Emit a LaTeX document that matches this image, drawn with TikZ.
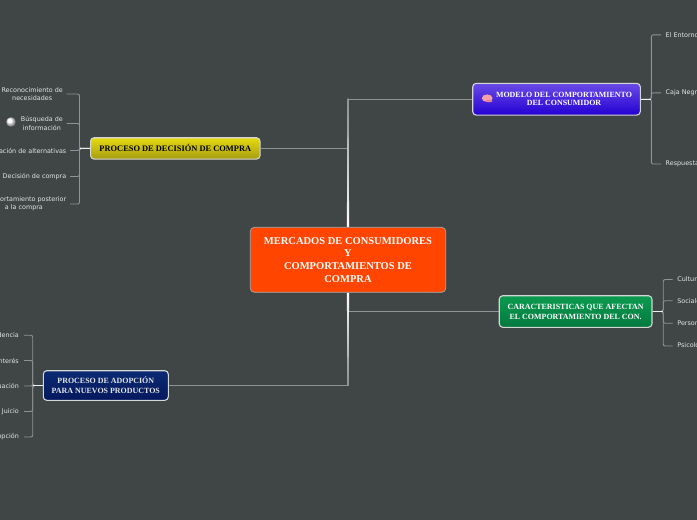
\documentclass[tikz,border=0pt]{standalone}
\usepackage{fontspec}
\setmainfont{Liberation Serif}
\newfontfamily\leaffont{DejaVu Sans}
\usetikzlibrary{backgrounds,calc}
\definecolor{bgc}{HTML}{404545}
\definecolor{linec}{HTML}{8E9393}
\definecolor{leafc}{HTML}{E4E6E6}
\definecolor{rootc}{HTML}{FF4500}
\definecolor{yelt}{HTML}{E6DA10}
\definecolor{yelb}{HTML}{A59D12}
\definecolor{blut}{HTML}{6A4BE6}
\definecolor{blub}{HTML}{2400D2}
\definecolor{grnt}{HTML}{0B9A50}
\definecolor{grnb}{HTML}{047A3E}
\definecolor{navt}{HTML}{0C2A72}
\definecolor{navb}{HTML}{04185E}
\definecolor{braina}{HTML}{F8A0A8}
\definecolor{brainb}{HTML}{E88090}
\tikzset{
  x=1pt,y=-1pt,
  branch/.style={draw=#1,line width=1.1pt},
  bracket/.style={draw=linec,line width=0.9pt,rounded corners=2pt},
  mainbox/.style={draw=white!55!bgc,line width=0.7pt,rounded corners=4pt,inner sep=0pt,align=center,font=\bfseries\fontsize{10.5}{12.7}\selectfont,text=white,fill=#1},
  subbox/.style 2 args={draw=white!78!bgc,line width=1.1pt,rounded corners=3.5pt,inner sep=0pt,align=center,top color=#1,bottom color=#2},
  subfont/.style={font=\bfseries\fontsize{7.95}{9.9}\selectfont},
  leafl/.style={inner xsep=3.5pt,inner ysep=1pt,anchor=east,align=center,text=leafc,font=\leaffont\fontsize{6.4}{8.2}\selectfont},
  leafr/.style={inner xsep=4.5pt,inner ysep=1pt,anchor=west,align=left,text=leafc,font=\leaffont\fontsize{6.4}{8.2}\selectfont},
}
\begin{document}
\begin{tikzpicture}
\useasboundingbox (0,0) rectangle (697,520);
\begin{scope}[on background layer]
\fill[bgc] (0,0) rectangle (697,520);
\end{scope}
\clip (0,0) rectangle (697,520);

\node[mainbox={rootc},minimum width=195.4pt,minimum height=65pt] (root) at (348,259.8)
  {MERCADOS DE CONSUMIDORES\\Y\\COMPORTAMIENTOS DE\\COMPRA};

\node[subbox={yelt}{yelb},font=\bfseries\fontsize{8.4}{10.2}\selectfont,text=black,minimum width=169.5pt,minimum height=21.3pt] (dec) at (175.3,148.4)
  {PROCESO DE DECISIÓN DE COMPRA};
\node[subbox={blut}{blub},subfont,text=white,minimum width=167.6pt,minimum height=31.7pt] (mod) at (556.5,99.2)
  {\hspace{15pt}\begin{tabular}{@{}c@{}}MODELO DEL COMPORTAMIENTO\\[-1.6pt]DEL CONSUMIDOR\end{tabular}};
\node[subbox={grnt}{grnb},subfont,text=white,minimum width=152.7pt,minimum height=31.6pt] (car) at (575.6,311.5)
  {CARACTERISTICAS QUE AFECTAN\\EL COMPORTAMIENTO DEL CON.};
\node[subbox={navt}{navb},subfont,text=leafc,minimum width=125pt,minimum height=29.6pt] (ado) at (105.8,385.5)
  {PROCESO DE ADOPCIÓN\\PARA NUEVOS PRODUCTOS};

% leaves left (decision)
\node[leafl] (d1) at (66.5,94) {Reconocimiento de\\necesidades};
\node[leafl] (d2) at (66.5,123.5) {Búsqueda de\\información};
\node[leafl] (d3) at (70,150.5) {Evaluación de alternativas};
\node[leafl] (d4) at (70,176.5) {Decisión de compra};
\node[leafl] (d5) at (70,204) {Comportamiento posterior\\a la compra};
% leaves right (modelo)
\node[leafr] (m1) at (661,34.8) {El Entorno};
\node[leafr] (m2) at (661,92.8) {Caja Negra};
\node[leafr] (m3) at (661,164) {Respuesta};
% leaves right (caracteristicas)
\node[leafr] (c1) at (672.7,279.5) {Cultura};
\node[leafr] (c2) at (672.7,300.7) {Sociales};
\node[leafr] (c3) at (672.7,323.2) {Personales};
\node[leafr] (c4) at (672.7,346) {Psicológicos};
% leaves left (adopcion)
\node[leafl,inner xsep=5pt] (a1) at (24,335.2) {Evidencia};
\node[leafl,inner xsep=5pt] (a2) at (24,360.5) {Interés};
\node[leafl,inner xsep=5pt] (a3) at (24,386) {Evaluación};
\node[leafl,inner xsep=5pt] (a4) at (24,411.5) {Juicio};
\node[leafl,inner xsep=5pt] (a5) at (24,437) {Adopción};

\begin{scope}[on background layer]
% main branches
\draw[branch=linec] (root) |- (mod.west);
\draw[branch=linec] (root) |- (dec.east);
\draw[branch=linec] (root) |- (car.west);
\draw[branch=linec] (root) |- (ado.east);
% tapering trunks, fading from white at the central box
\shade[top color=linec,bottom color=white] ($(root.north)+(-0.6,-128.5)$) -- ($(root.north)+(0.6,-128.5)$) -- ($(root.north)+(1.1,0)$) -- ($(root.north)+(-1.1,0)$) -- cycle;
\shade[top color=white,middle color=white!90!linec,bottom color=linec] ($(root.south)+(-1.1,0)$) -- ($(root.south)+(1.1,0)$) -- ($(root.south)+(0.6,93)$) -- ($(root.south)+(-0.6,93)$) -- cycle;
% brackets
\foreach \n in {d1,d2,d3,d4,d5}{\draw[bracket] (dec.west) -- ++(-10.5,0) |- (\n.east);}
\foreach \n in {m1,m2,m3}{\draw[bracket] (mod.east) -- ++(10.5,0) |- (\n.west);}
\foreach \n in {c1,c2,c3,c4}{\draw[bracket] (car.east) -- ++(10.7,0) |- (\n.west);}
\foreach \n in {a1,a2,a3,a4,a5}{\draw[bracket] (ado.west) -- ++(-10,0) |- (\n.east);}
\draw[white!85!linec,line width=1.2pt] (dec.west) -- ++(-10.5,0);
\draw[white!85!linec,line width=1.2pt] (mod.east) -- ++(10.5,0);
\draw[white!85!linec,line width=1.2pt] (car.east) -- ++(10.7,0);
\draw[white!85!linec,line width=1.2pt] (ado.west) -- ++(-10,0);
\end{scope}

% sphere icon
\shade[ball color=white] (11,122) circle (4.8pt);
% brain icon
\fill[braina] (487.2,98.2) ellipse (5.4pt and 3.8pt);
\fill[brainb] (489,101) ellipse (3.5pt and 1.3pt);
\end{tikzpicture}
\end{document}
